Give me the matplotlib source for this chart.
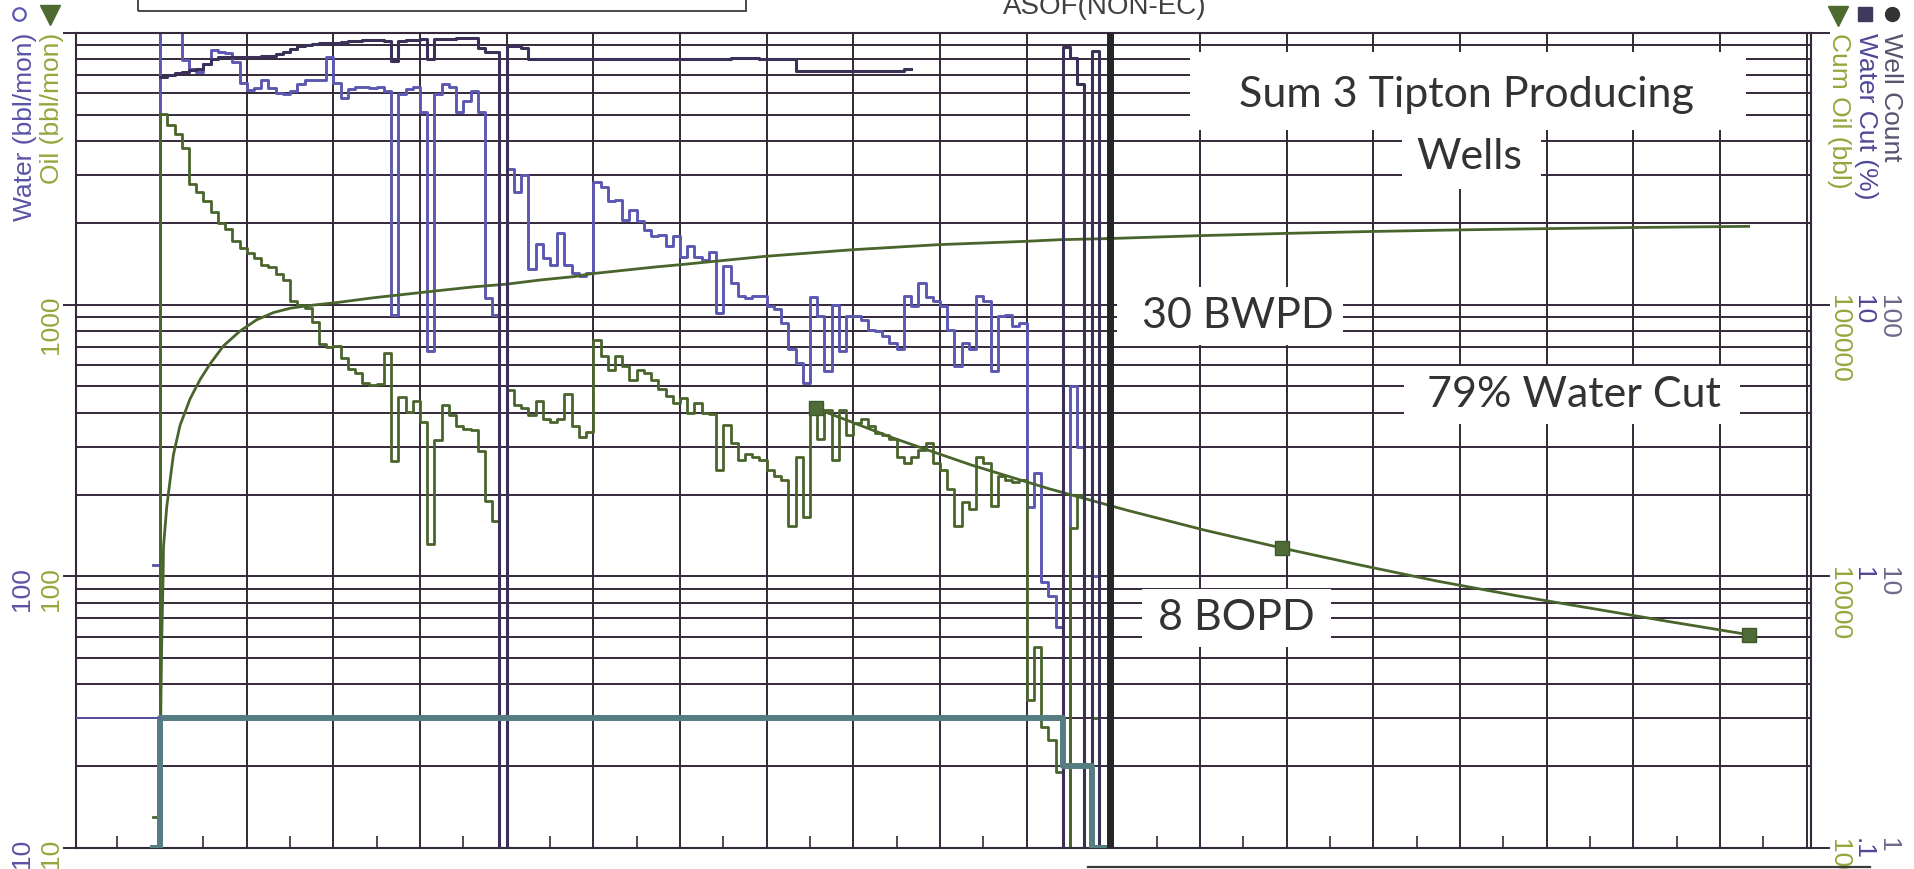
import numpy as np
import matplotlib
matplotlib.use('Agg')
import matplotlib.pyplot as plt
from matplotlib.ticker import FixedLocator, FuncFormatter, MultipleLocator, LogLocator, NullLocator, NullFormatter
from matplotlib.lines import Line2D
from matplotlib.patches import Rectangle

plt.rcParams['font.family'] = ['Liberation Sans', 'DejaVu Sans']

# ---------------- data (monthly, first partial month = Dec 1990) ----------------
first_month = 1990 + 11 / 12

oil = [13,
       5040, 4600, 4265, 3776, 2790, 2600, 2403, 2194, 2004, 1900,
       1722, 1622, 1550, 1482, 1394, 1374, 1300, 1236, 1031, 1000,
       970, 860, 717, 700, 706, 635, 580, 560, 514, 507,
       510, 665, 265, 456, 404, 442, 369, 132, 317, 429,
       392, 358, 350, 347, 290, 190, 160, 0, 484, 429,
       416, 392, 442, 380, 369, 380, 470, 358, 327, 340,
       743, 645, 577, 645, 594, 530, 577, 560, 530, 488,
       461, 435, 455, 400, 435, 400, 395, 247, 362, 309,
       269, 282, 275, 269, 247, 234, 227, 153, 275, 166,
       435, 319, 411, 269, 411, 331, 368, 378, 357, 337,
       331, 319, 275, 262, 275, 292, 309, 262, 247, 210,
       153, 188, 177, 275, 262, 181, 234, 227, 222, 227,
       35, 55, 28, 25, 19, 0, 150, 200, 0, 30, 0, 0]

water = [110,
         12000, 12000, 12000, 7930, 7350, 7200, 7700, 8660, 8500, 8440,
         7800, 6550, 6170, 6300, 6720, 6300, 6020, 5940, 6130, 6510,
         6720, 6720, 6720, 8160, 6550, 5770, 6220, 6310, 6310, 6270,
         6310, 6130, 914, 5940, 6220, 6310, 5120, 675, 5940, 6510,
         6310, 5120, 5600, 6130, 5120, 1062, 914, 0, 3150, 2600,
         3000, 1352, 1670, 1482, 1394, 1830, 1394, 1312, 1280, 1312,
         2840, 2720, 2400, 2430, 2050, 2230, 2030, 1890, 1790, 1800,
         1640, 1790, 1500, 1640, 1500, 1460, 1560, 932, 1390, 1200,
         1075, 1060, 1075, 1075, 987, 962, 857, 684, 610, 517,
         1066, 910, 570, 1000, 675, 910, 910, 880, 808, 798,
         764, 722, 684, 1075, 990, 1200, 1066, 1030, 990, 808,
         594, 722, 684, 1075, 1030, 570, 910, 920, 832, 857,
         180, 240, 95, 85, 65, 0, 500, 300, 0, 100, 0, 0]

nan = float('nan')
water_cut = [nan,
             69, 70, 71, 72, 73, 74, 77, 80, 81.6, 81.6,
             81.6, 81.6, 81.6, 81.6, 82, 82.4, 83.5, 85.4, 87.5, 89.4,
             90, 90.8, 91.5, 92.2, 92.2, 92.8, 93.6, 93.8, 94, 94.2,
             94, 93.6, 79, 93.6, 94.2, 94.5, 95, 80.5, 95, 95.2,
             95.4, 95.6, 95.9, 95.9, 88, 85.4, 85.4, 0, 89.4, 89.4,
             88, 80.5, 80, 80, 80, 80, 80, 80, 80, 80,
             80, 80, 80.3, 80.3, 80.3, 80.3, 80.3, 80.3, 80.3, 80.3,
             80.3, 80, 80, 80, 80, 80, 80, 80, 80, 81,
             81, 81, 81, 80, 80, 80, 80, 80, 72.5, 72.5,
             72.5, 72.5, 72.5, 72.5, 72.5, 72.5, 72.5, 72.5, 72.5, 72.5,
             72.5, 72.5, 72.5, 74, nan, nan, nan, nan, nan, nan,
             nan, nan, nan, nan, nan, nan, nan, nan, nan, nan,
             nan, nan, nan, nan, 0, 89, 81, 65, 0, 86, 0, 0]

well_years = [1990.917, 1991.0, 2001.417, 2001.75, 2001.95]
well_count = [1, 3, 2, 1, 1]
pre_years = [1990.03, 1991.0]
pre_wells = [3, 3]

cum_years = [1990.99, 1991.0, 1991.01, 1991.02, 1991.035, 1991.04, 1991.077, 1991.115,
             1991.154, 1991.231, 1991.346, 1991.462, 1991.577, 1991.731, 1991.923,
             1992.116, 1992.308, 1992.5, 1992.69, 1993.04, 1993.46, 1993.85, 1994.23,
             1994.62, 1995.0, 1995.39, 1995.77, 1995.98, 1996.35, 1996.73, 1997.0,
             1997.98, 1998.99, 1999.98, 2000.98, 2001.39, 2001.92]
cum_oil = [800, 1500, 3500, 6000, 10000, 12900, 18000, 22500,
           28000, 36000, 45000, 53000, 60500, 70500, 80000,
           88000, 93500, 97000, 99000, 101800, 106000, 109400, 112800,
           116300, 119000, 123300, 126800, 130000, 133800, 137800, 140300,
           150600, 159300, 166300, 171000, 173500, 175000]

fc_years = [1998.57, 1999.47, 2000.36, 2001.26, 2002.16, 2003.05, 2003.95,
            2004.85, 2005.74, 2006.64, 2007.54, 2008.43, 2009.33]
fc_oil = [415, 322, 257, 210, 175, 148, 127, 110, 96, 85, 76, 68, 61]
fc_marker_idx = [0, 6, 12]

cum_fc_years = [2001.92, 2003.0, 2004.0, 2005.0, 2006.0, 2007.0, 2008.0, 2009.33]
cum_fc = [175000, 179500, 183000, 186000, 188500, 190500, 192300, 194200]

asof_year = 2001.96

annotations = ["Sum 3 Tipton Producing", "Wells", "30 BWPD", "79% Water Cut", "8 BOPD"]

# ---------------- styling ----------------
GRID = '#35283a'
WATER_C = '#5c58b2'
WC_C = '#3a3058'
OIL_C = '#4a652c'
WELL_C = '#557d82'
PURPLE_T = '#5a52a5'
GREEN_T = '#98a43c'
WC_T = '#4e4896'
WELL_T = '#57536e'
TICK_FS = 19

W, H = 1915, 869
def fx(px): return px / W
def fy(py): return 1 - py / H

def pos(a):
    a = np.array(a, dtype=float)
    return np.where(np.isnan(a), np.nan, np.where(a > 0, a, 1e-3))

fig = plt.figure(figsize=(W / 100, H / 100), dpi=100)
fig.patch.set_facecolor('white')
ax = fig.add_axes([fx(76), fy(848), (1811 - 76) / W, (848 - 33) / H])

months = first_month + np.arange(len(oil)) / 12.0

ax.set_yscale('log')
ax.set_ylim(10, 10000)
ax.set_xlim(1990.03, 2010.05)
ax.xaxis.set_major_locator(MultipleLocator(1))
ax.xaxis.set_minor_locator(MultipleLocator(0.5))
ax.xaxis.set_major_formatter(NullFormatter())
ax.yaxis.set_major_locator(FixedLocator([10, 100, 1000, 10000]))
ax.yaxis.set_major_formatter(FuncFormatter(lambda v, p: '' if v >= 10000 else f'{v:.0f}'))
ax.yaxis.set_minor_locator(LogLocator(base=10, subs=np.arange(2, 10)))
ax.yaxis.set_minor_formatter(NullFormatter())
ax.grid(which='both', axis='y', color=GRID, lw=1.4)
ax.grid(which='major', axis='x', color=GRID, lw=1.4)
ax.tick_params(axis='x', which='major', length=0, labelbottom=False)
ax.tick_params(axis='x', which='minor', direction='in', length=8.5, width=1.2, color=GRID,
               bottom=True, top=False)
ax.yaxis.set_ticks_position('left')
ax.tick_params(axis='y', which='major', direction='out', length=9.4, width=1.4, color=GRID,
               labelcolor=GREEN_T, labelsize=TICK_FS, labelrotation=90, pad=0)
ax.tick_params(axis='y', which='minor', length=0)
for sp in ax.spines.values():
    sp.set_color(GRID)
    sp.set_linewidth(1.5)

ax.plot(months, pos(water), drawstyle='steps-post', color=WATER_C, lw=2.1, zorder=2)
ax.plot(months, pos(oil), drawstyle='steps-post', color=OIL_C, lw=2.0, zorder=2.1)
ax.plot(fc_years, fc_oil, color=OIL_C, lw=2.0, marker='s', markersize=10.5,
        markevery=fc_marker_idx, mfc='#4e6b38', mec='#3e5a2a', zorder=2.2)

# left purple (water) tick labels
ax_wl = ax.twinx()
ax_wl.yaxis.tick_left()
ax_wl.set_yscale('log')
ax_wl.set_ylim(10, 10000)
ax_wl.yaxis.set_major_locator(FixedLocator([10, 100]))
ax_wl.yaxis.set_major_formatter(FuncFormatter(lambda v, p: f'{v:.0f}'))
ax_wl.yaxis.set_minor_locator(NullLocator())
ax_wl.tick_params(axis='y', length=0, labelcolor=PURPLE_T, labelsize=TICK_FS, labelrotation=90,
                  pad=30)

# cumulative oil
ax_cum = ax.twinx()
ax_cum.set_yscale('log')
ax_cum.set_ylim(1e3, 1e6)
ax_cum.yaxis.set_major_locator(FixedLocator([1e3, 1e4, 1e5, 1e6]))
ax_cum.yaxis.set_major_formatter(FuncFormatter(lambda v, p: '' if v >= 1e6 else f'{v:.0f}'))
ax_cum.yaxis.set_minor_locator(NullLocator())
ax_cum.tick_params(axis='y', direction='out', length=13.7, width=1.4, color=GRID,
                   labelcolor=GREEN_T, labelsize=TICK_FS, labelrotation=-90, pad=-2)
ax_cum.plot(cum_years, cum_oil, color=OIL_C, lw=2.0, zorder=2)
ax_cum.plot(cum_fc_years, cum_fc, color=OIL_C, lw=2.0, zorder=2)

# water cut
ax_wc = ax.twinx()
ax_wc.set_yscale('log')
ax_wc.set_ylim(0.1, 100)
ax_wc.yaxis.set_major_locator(FixedLocator([0.1, 1, 10, 100]))
ax_wc.yaxis.set_major_formatter(FuncFormatter(
    lambda v, p: '' if v >= 100 else ('.1' if v < 1 else f'{v:.0f}')))
ax_wc.yaxis.set_minor_locator(NullLocator())
ax_wc.tick_params(axis='y', length=0, labelcolor=WC_T, labelsize=TICK_FS, labelrotation=-90,
                  pad=28.8)
ax_wc.plot(months, pos(water_cut), drawstyle='steps-post', color=WC_C, lw=2.2, zorder=2)

# well count
ax_wells = ax.twinx()
ax_wells.set_yscale('log')
ax_wells.set_ylim(1, 1000)
ax_wells.yaxis.set_major_locator(FixedLocator([1, 10, 100, 1000]))
ax_wells.yaxis.set_major_formatter(FuncFormatter(lambda v, p: '' if v >= 1000 else f'{v:.0f}'))
ax_wells.yaxis.set_minor_locator(NullLocator())
ax_wells.tick_params(axis='y', length=0, labelcolor='#6d6a8a', labelsize=TICK_FS,
                     labelrotation=-90, pad=46.8)
ax_wells.plot(well_years, well_count, drawstyle='steps-post', color=WELL_C, lw=4.3, zorder=2)
ax_wells.plot(pre_years, pre_wells, color=WATER_C, lw=1.2, zorder=2)
ax_wells.axvline(asof_year, color='#262626', lw=5, zorder=5)

for a in (ax_wl, ax_cum, ax_wc, ax_wells):
    for sp in a.spines.values():
        sp.set_visible(False)
    a.xaxis.set_visible(False)

# ---------------- frame texts ----------------
fig.text(fx(25), fy(33), 'Water (bbl/mon)', rotation=90, ha='center', va='top',
         color=PURPLE_T, fontsize=19)
fig.text(fx(52), fy(33), 'Oil (bbl/mon)', rotation=90, ha='center', va='top',
         color=GREEN_T, fontsize=19)
fig.text(fx(1839), fy(33), 'Cum Oil (bbl)', rotation=270, ha='center', va='top',
         color=GREEN_T, fontsize=19)
fig.text(fx(1866), fy(33), 'Water Cut (%)', rotation=270, ha='center', va='top',
         color=WC_T, fontsize=19)
fig.text(fx(1891), fy(33), 'Well Count', rotation=270, ha='center', va='top',
         color=WELL_T, fontsize=19)

fig.add_artist(Line2D([fx(19)], [fy(14)], marker='o', markersize=9, mfc='none',
                      mec=WATER_C, mew=1.6, transform=fig.transFigure))
fig.add_artist(Line2D([fx(50)], [fy(15)], marker='v', markersize=14, color='#4e6a30',
                      transform=fig.transFigure))
fig.add_artist(Line2D([fx(1838)], [fy(16)], marker='v', markersize=14, color='#4e6a30',
                      transform=fig.transFigure))
fig.add_artist(Line2D([fx(1865)], [fy(14)], marker='s', markersize=10, color='#3e3a5e',
                      transform=fig.transFigure))
fig.add_artist(Line2D([fx(1892)], [fy(14)], marker='o', markersize=10, color='#333333',
                      transform=fig.transFigure))

fig.text(fx(1105), fy(14), 'ASOF(NON-EC)', ha='center', va='baseline', fontsize=20,
         color='#404040')
fig.add_artist(Rectangle((fx(138), fy(11)), (746 - 138) / W, 0.05, fill=False,
                         edgecolor='#3a3a3a', lw=1.3, transform=fig.transFigure))
fig.add_artist(Line2D([fx(1088), fx(1870)], [fy(867), fy(867)], color='#3a3a3a', lw=1.6,
                      transform=fig.transFigure))

# ---------------- annotation boxes ----------------
boxes = [(1190, 52, 1746, 130), (1402, 130, 1541, 189), (1117, 287, 1343, 345),
         (1404, 366, 1740, 424), (1142, 589, 1331, 647)]
centers = [(1466, 95), (1469, 157), (1238, 316), (1574, 395), (1236, 618)]
for (x0, y0, x1, y1), (cx, cy), txt in zip(boxes, centers, annotations):
    fig.add_artist(Rectangle((fx(x0), fy(y1)), (x1 - x0) / W, (y1 - y0) / H,
                             facecolor='white', edgecolor='none', transform=fig.transFigure,
                             zorder=3))
    fig.text(fx(cx), fy(cy), txt, ha='center', va='center', fontsize=31,
             family=['Lato', 'DejaVu Sans'], color='#333333', zorder=4)

fig.savefig('out.png', dpi=100)
